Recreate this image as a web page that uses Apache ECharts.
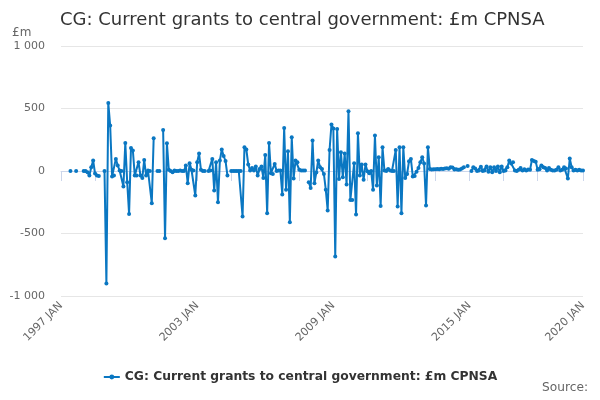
<!DOCTYPE html>
<html lang="en" style="height: 100%">
<head>
    <meta charset="utf-8">
</head>
<body style="height: 100%; margin: 0">
<div id="container" style="width: 600px; height: 400px"></div>

<script type="text/javascript" src="https://fastly.jsdelivr.net/npm/echarts@6.0.0/dist/echarts.min.js"></script>

<script type="text/javascript">
    // monthly values, £m, one array per year (null = no figure)
    var v1997 = [null, null, null, null, null, 0, null, null, 0, null, null, null];
    var v1998 = [0, 0, -10, -36, 30, 84, -20, -36, -40, null, null, 0];
    var v1999 = [-900, 545, 364, -44, -36, 97, 44, 4, 0, -124, 225, -89];
    var v2000 = [-343, 185, 164, -36, -36, 71, -36, -55, 89, -36, 4, 0];
    var v2001 = [-257, 263, null, 0, 0, null, 329, -537, 223, 10, 0, -10];
    var v2002 = [5, 0, 0, 5, 0, 0, 44, -97, 63, 10, 5, -196];
    var v2003 = [71, 140, 10, 0, 0, null, 0, 5, 97, -156, 71, -249];
    var v2004 = [84, 172, 120, 80, -36, null, 0, 0, 0, 0, 0, 0];
    var v2005 = [-364, 191, 172, 52, 4, 25, 4, 36, -36, 17, 36, -55];
    var v2006 = [129, -337, 225, -17, -23, 57, 0, 4, 4, -188, 345, -150];
    var v2007 = [159, -409, 270, -60, 84, 71, 10, 4, 4, 4, null, -89];
    var v2008 = [-135, 244, -97, -12, 84, 31, 17, -23, -150, -316, 169, 372];
    var v2009 = [340, -684, 337, -63, 151, -50, 140, -108, 479, -231, -231, 63];
    var v2010 = [-348, 303, -36, 52, -70, 52, -1, -17, 0, -150, 284, -116];
    var v2011 = [110, -279, 190, 4, 0, 17, 4, 0, 0, 169, -284, 190];
    var v2012 = [-337, 190, -55, -23, 79, 97, -44, -40, -5, 25, 71, 110];
    var v2013 = [60, -276, 191, 17, 12, 15, 14, 16, 15, 18, 16, 20];
    var v2014 = [22, 18, 30, 28, 12, 14, 10, 12, 20, 30, null, 40];
    var v2015 = [null, 0, 30, 20, 0, 5, 35, 0, 4, 36, -5, 30];
    var v2016 = [-10, 30, 0, 36, -10, 36, 0, 4, 30, 84, 60, 70];
    var v2017 = [4, 0, 10, 25, 4, 15, 4, 12, 10, 89, 80, 75];
    var v2018 = [10, 15, 45, 30, 25, 4, 25, 10, 4, 5, 10, 30];
    var v2019 = [4, 10, 30, 20, -60, 100, 30, 4, 10, 4, 10, 4];
    var v2020 = [5];

    var monthNames = ['JAN', 'FEB', 'MAR', 'APR', 'MAY', 'JUN', 'JUL', 'AUG', 'SEP', 'OCT', 'NOV', 'DEC'];
    var firstYear = 1997;
    var seriesName = 'CG: Current grants to central government: £m CPNSA';

    var values = [].concat(v1997, v1998, v1999, v2000, v2001, v2002, v2003, v2004,
        v2005, v2006, v2007, v2008, v2009, v2010, v2011, v2012, v2013, v2014,
        v2015, v2016, v2017, v2018, v2019, v2020);
    var months = values.map(function (v, i) {
        return (firstYear + Math.floor(i / 12)) + ' ' + monthNames[i % 12];
    });
    var last = values.length - 1;

    var dom = document.getElementById('container');
    var myChart = echarts.init(dom, null, {renderer: 'canvas'});

    var font = 'DejaVu Sans';
    var option = {
        animation: false,
        textStyle: {fontFamily: font},
        title: {
            text: 'CG: Current grants to central government: £m CPNSA',
            left: 55,
            top: 6,
            textStyle: {fontSize: 18, fontWeight: 'normal', color: '#333', fontFamily: font}
        },
        graphic: [
            {type: 'text', left: 12, top: 27, style: {text: '£m', fontSize: 12, fill: '#666', fontFamily: font}},
            {type: 'text', right: 12, top: 382, style: {text: 'Source:', fontSize: 12.2, fill: '#666', fontFamily: font}}
        ],
        legend: {
            top: 366,
            left: 'center',
            itemWidth: 16,
            itemHeight: 6,
            textStyle: {fontSize: 12.3, fontWeight: 'bold', color: '#333', fontFamily: font},
            data: [seriesName]
        },
        grid: {left: 61, right: 17, top: 46, bottom: 104},
        xAxis: {
            type: 'category',
            data: months,
            boundaryGap: false,
            axisLine: {lineStyle: {color: '#ccd6eb'}},
            axisTick: {
                length: 10,
                lineStyle: {color: '#ccd6eb'},
                interval: function (idx) {
                    return (idx % 18 === 0 && idx <= 252) || idx === last;
                }
            },
            axisLabel: {
                rotate: 45,
                color: '#666',
                fontSize: 11,
                margin: 8,
                interval: function (idx) {
                    return idx % 72 === 0 || idx === last;
                }
            }
        },
        yAxis: {
            type: 'value',
            min: -1000,
            max: 1000,
            interval: 500,
            axisLine: {show: false},
            axisTick: {show: false},
            splitLine: {lineStyle: {color: '#e6e6e6'}},
            axisLabel: {
                color: '#666',
                fontSize: 11,
                margin: 16,
                formatter: function (v) {
                    return String(v).replace(/\B(?=(\d{3})+(?!\d))/g, ' ');
                }
            }
        },
        series: [{
            name: seriesName,
            type: 'line',
            data: values,
            connectNulls: false,
            showAllSymbol: true,
            symbol: 'circle',
            symbolSize: 4,
            itemStyle: {color: '#0a77c2'},
            lineStyle: {width: 2, color: '#0a77c2'}
        }]
    };

    myChart.setOption(option);
    window.addEventListener('resize', myChart.resize);
</script>
</body>
</html>
